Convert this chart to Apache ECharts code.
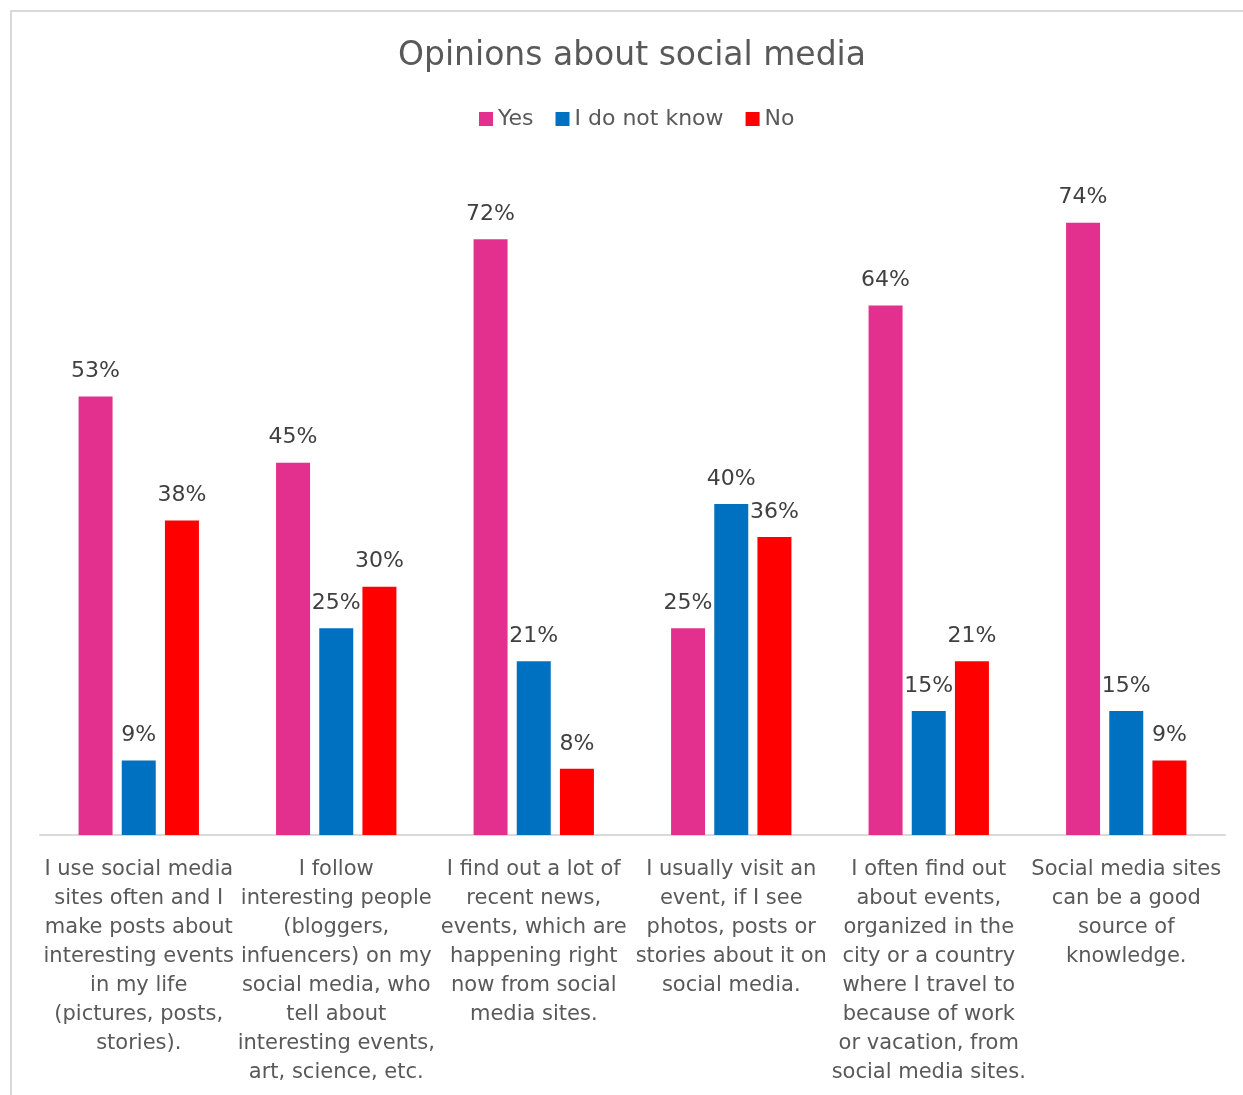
<!DOCTYPE html>
<html>
<head>
<meta charset="utf-8">
<script src="https://cdn.jsdelivr.net/npm/echarts@6/dist/echarts.min.js"></script>
<style>
html,body{margin:0;padding:0;background:#fff;overflow:hidden;}
#wrap{position:relative;width:1243px;height:1095px;overflow:hidden;}
#chart{position:absolute;left:0;top:0;width:1243px;height:1095px;}
#frame{position:absolute;left:10px;top:10px;width:1400px;height:1300px;border-left:2px solid #d9d9d9;border-top:2px solid #d9d9d9;pointer-events:none;}
</style>
</head>
<body>
<div id="wrap"><div id="chart"></div><div id="frame"></div></div>
<script>
const categories = [
  "I use social media\nsites often and I\nmake posts about\ninteresting events\nin my life\n(pictures, posts,\nstories).",
  "I follow\ninteresting people\n(bloggers,\ninfuencers) on my\nsocial media, who\ntell about\ninteresting events,\nart, science, etc.",
  "I find out a lot of\nrecent news,\nevents, which are\nhappening right\nnow from social\nmedia sites.",
  "I usually visit an\nevent, if I see\nphotos, posts or\nstories about it on\nsocial media.",
  "I often find out\nabout events,\norganized in the\ncity or a country\nwhere I travel to\nbecause of work\nor vacation, from\nsocial media sites.",
  "Social media sites\ncan be a good\nsource of\nknowledge."
];
const seriesNames = ["Yes", "I do not know", "No"];
const yesValues = [53, 45, 72, 25, 64, 74];
const dontKnowValues = [9, 25, 21, 40, 15, 15];
const noValues = [38, 30, 8, 36, 21, 9];
const titleText = "Opinions about social media";

const FONT = "'DejaVu Sans', Verdana, sans-serif";
const colors = ['#E3308F', '#0070C0', '#FF0000'];

function mkSeries(name, data, color) {
  return {
    name: name,
    type: 'bar',
    data: data,
    barWidth: 34,
    barGap: '27%',
    itemStyle: { color: color },
    label: {
      show: true,
      position: 'top',
      distance: 14,
      formatter: '{c}%',
      color: '#404040',
      fontFamily: FONT,
      fontSize: 22
    }
  };
}

const chart = echarts.init(document.getElementById('chart'), null, { renderer: 'canvas' });
chart.setOption({
  animation: false,
  backgroundColor: 'transparent',
  color: colors,
  title: {
    text: titleText,
    left: 632,
    textAlign: 'center',
    top: 40,
    padding: 0,
    textStyle: { color: '#595959', fontFamily: FONT, fontSize: 33, fontWeight: 'normal' }
  },
  legend: {
    data: seriesNames,
    left: 479,
    top: 108,
    padding: 0,
    itemWidth: 14,
    itemHeight: 14,
    itemGap: 22,
    icon: 'rect',
    textStyle: { color: '#595959', fontFamily: FONT, fontSize: 22 }
  },
  grid: { left: 40, right: 18, top: 173, bottom: 260, containLabel: false },
  xAxis: {
    type: 'category',
    data: categories,
    axisLine: { show: true, lineStyle: { color: '#d9d9d9', width: 2 } },
    axisTick: { show: false },
    axisLabel: {
      interval: 0,
      margin: 20,
      color: '#595959',
      fontFamily: FONT,
      fontSize: 21,
      lineHeight: 29,
      align: 'center'
    }
  },
  yAxis: {
    type: 'value',
    min: 0,
    max: 80,
    show: false,
    splitLine: { show: false }
  },
  series: [
    mkSeries(seriesNames[0], yesValues, colors[0]),
    mkSeries(seriesNames[1], dontKnowValues, colors[1]),
    mkSeries(seriesNames[2], noValues, colors[2])
  ]
});
</script>
</body>
</html>
